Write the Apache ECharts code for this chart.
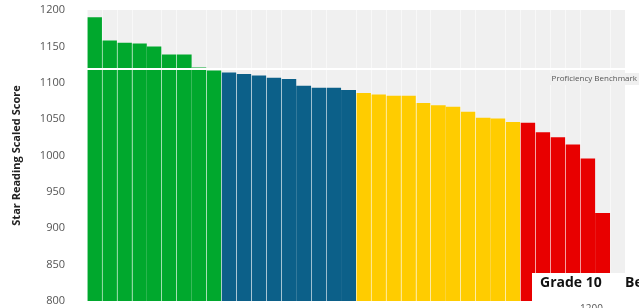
<!doctype html>
<html>
<head>
    <meta charset="UTF-8">
    <title>Star Reading Scaled Score</title>
    <script src="https://cdn.jsdelivr.net/npm/echarts@6/dist/echarts.min.js"></script>
    <style>
        html, body { margin: 0; padding: 0; background: #fff; }
        #main { width: 639px; height: 308px; }
    </style>
</head>
<body>
<div id="main"></div>
<script>
    // 各分组学生成绩（从高到低）
    var greenScores  = [1190, 1158, 1155, 1154, 1150, 1139, 1139, 1121, 1117];
    var blueScores   = [1114, 1112, 1110, 1107, 1105, 1096, 1093, 1093, 1090];
    var yellowScores = [1086, 1084, 1082, 1082, 1072, 1069, 1067, 1060, 1052, 1051, 1046];
    var redScores    = [1045, 1032, 1025, 1015, 996, 921];
    var emptySlots   = [null];
    var benchmark = 1119;
    var yTicks = [800, 850, 900, 950, 1000, 1050, 1100, 1150, 1200];

    var groups = [
        {scores: greenScores, color: '#00a82d'},
        {scores: blueScores, color: '#0c6089'},
        {scores: yellowScores, color: '#ffcc00'},
        {scores: redScores, color: '#e80000'},
        {scores: emptySlots, color: '#ffffff'}
    ];

    var categories = [];
    var barData = [];
    groups.forEach(function (g) {
        g.scores.forEach(function (v) {
            categories.push('S' + (categories.length + 1));
            barData.push({value: v, itemStyle: {color: g.color}});
        });
    });

    // 竖向网格线（原图中部分缺失）
    var hiddenLines = [4, 7, 14, 17, 24, 27, 34];

    var myChart = echarts.init(document.getElementById('main'));
    var option = {
        animation: false,
        textStyle: {fontFamily: 'Open Sans'},
        grid: {
            left: 87,
            right: 14,
            top: 10,
            bottom: 7,
            show: true,
            backgroundColor: '#f0f0f0',
            borderWidth: 0
        },
        xAxis: {
            type: 'category',
            data: categories,
            z: 5,
            axisLine: {show: false},
            axisTick: {show: false},
            axisLabel: {show: false},
            splitLine: {
                show: true,
                interval: function (index) {
                    return hiddenLines.indexOf(index) < 0;
                },
                lineStyle: {color: 'rgba(255,255,255,0.55)', width: 1}
            }
        },
        yAxis: {
            type: 'value',
            min: yTicks[0],
            max: yTicks[yTicks.length - 1],
            interval: 50,
            name: 'Star Reading Scaled Score',
            nameLocation: 'middle',
            nameGap: 65,
            nameTextStyle: {fontSize: 11, fontWeight: 'bold', color: '#222'},
            axisLine: {show: false},
            axisTick: {show: false},
            splitLine: {show: false},
            axisLabel: {
                fontSize: 11,
                color: '#555',
                margin: 22,
                formatter: function (v) { return String(v); }
            }
        },
        series: [{
            type: 'bar',
            data: barData,
            barCategoryGap: '0%',
            markLine: {
                silent: true,
                symbol: 'none',
                lineStyle: {color: '#ffffff', width: 2, type: 'solid'},
                label: {
                    show: true,
                    position: 'insideEndBottom',
                    formatter: 'Proficiency Benchmark',
                    fontSize: 8,
                    color: '#555',
                    backgroundColor: '#f0f0f0',
                    padding: [2, 2],
                    offset: [19, -1]
                },
                data: [{yAxis: benchmark}]
            }
        }],
        graphic: [
            {type: 'rect', z: 100, shape: {x: 532, y: 273, width: 107, height: 40}, style: {fill: '#ffffff'}},
            {type: 'text', z: 101, x: 540, y: 276, style: {text: 'Grade 10', font: 'bold 14px "Open Sans"', fill: '#111'}},
            {type: 'text', z: 101, x: 625, y: 276, style: {text: 'Be', font: 'bold 14px "Open Sans"', fill: '#111'}},
            {type: 'text', z: 101, x: 580, y: 304, style: {text: '1200', font: '10px "Open Sans"', fill: '#555'}}
        ]
    };
    myChart.setOption(option);
</script>
</body>
</html>
